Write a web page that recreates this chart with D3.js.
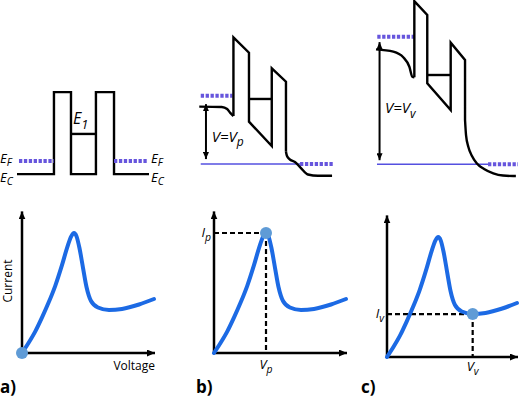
<!DOCTYPE html>
<html lang="en">
<head>
<meta charset="UTF-8">
<title>Resonant tunnelling diode</title>
<script src="https://cdnjs.cloudflare.com/ajax/libs/d3/7.8.5/d3.min.js"></script>
<style>
  html, body { margin: 0; padding: 0; background: #fff; }
  svg { display: block; }
  text { font-family: "Open Sans", "DejaVu Sans", sans-serif; fill: #000; }
</style>
</head>
<body>
<svg width="520" height="399"></svg>
<script>
// I-V curve, same shape in the three lower panels (normalised units)
const voltage = [0, 0.05, 0.1, 0.15, 0.2, 0.25, 0.3, 0.34, 0.37, 0.391, 0.41, 0.432, 0.459, 0.485, 0.519, 0.571, 0.654, 0.752, 0.88, 0.992];
const current = [0, 0.085, 0.18, 0.295, 0.42, 0.56, 0.73, 0.88, 0.972, 1.0, 0.972, 0.875, 0.708, 0.55, 0.433, 0.379, 0.358, 0.367, 0.404, 0.45];
const peakIdx = 9, valleyIdx = 16;

// band diagrams: position (% of panel width), energy (relative to right Fermi level)
// a) no bias
const flatPos = [0, 28, 28, 40.9, 40.9, 59.8, 59.8, 73.5, 73.5, 100];
const flatE   = [-0.16, -0.16, 0.84, 0.84, -0.16, -0.16, 0.84, 0.84, -0.16, -0.16];
const flatE1 = 0.33, flatE1Pos = [40.9, 59.8];
const flatEfLeft = [1.5, 28], flatEfRight = [73.5, 98.5];

// b) bias at peak
const peakLeadPos = [0.2, 17, 21, 23.5, 25.7];
const peakLeadE   = [0.70, 0.695, 0.67, 0.62, 0.585];
const peakBarPos  = [25.7, 25.7, 37.3, 37.3, 54.3, 54.3, 64.9, 64.9];
const peakBarE    = [0.585, 1.545, 1.357, 0.516, 0.22, 1.167, 1.004, 0.15];
const peakTailPos = [64.9, 65.6, 67.5, 71.6, 76.1, 81.3, 88.8, 99.3];
const peakTailE   = [0.15, 0.10, 0.06, 0.024, -0.049, -0.128, -0.143, -0.143];
const peakE1 = 0.793, peakE1Pos = [37.3, 54.3];
const peakBias = 0.833, peakEfLeft = [1.3, 25];
const peakEfRight = [1.3, 75.4, 100];   // solid, then dotted
const peakArrow = [5.2, 0.73, 0.06];    // pos, top, bottom

// c) bias at valley
const valLeadPos = [0, 12.2, 19.2, 23.5, 25.6, 27];
const valLeadE   = [1.402, 1.374, 1.305, 1.19, 1.068, 1.061];
const valBarPos  = [27, 27, 36.1, 36.1, 52.6, 52.6, 62.7, 62.7];
const valBarE    = [1.061, 1.99, 1.821, 0.988, 0.662, 1.483, 1.272, 0.54];
const valTailPos = [62.7, 63.4, 65, 67.6, 70.9, 76.1, 82.6, 89.4, 96.7, 98.5];
const valTailE   = [0.54, 0.357, 0.215, 0.101, 0.012, -0.057, -0.11, -0.137, -0.143, -0.143];
const valE1 = 1.089, valE1Pos = [36.1, 52.6];
const valBias = 1.556, valEfLeft = [0.9, 26.8];
const valEfRight = [0.7, 78.9, 100];
const valArrow = [2.5, 1.49, 0.05];

const svg = d3.select("svg");
const curveBlue = "#1c6ae4", dotBlue = "#5f9bd6", fermi = "#6655dd";

const defs = svg.append("defs");
function marker(id, len, wid, orient) {
  defs.append("marker").attr("id", id)
    .attr("viewBox", `0 0 ${len} ${wid}`)
    .attr("refX", len).attr("refY", wid / 2)
    .attr("markerWidth", len).attr("markerHeight", wid)
    .attr("markerUnits", "userSpaceOnUse")
    .attr("orient", orient)
    .append("path").attr("d", `M0,0L${len},${wid / 2}L0,${wid}Z`).attr("fill", "#000");
}
marker("ax", 8, 7, "auto");
marker("ar", 7, 6, "auto-start-reverse");

const pts = (xs, ys) => xs.map((v, i) => [v, ys[i]]);

function subText(g, x, y, main, sub, size, anchor, italic, drop) {
  const t = g.append("text").attr("x", x).attr("y", y)
    .attr("font-size", size).attr("text-anchor", anchor || "start")
    .attr("font-style", italic ? "italic" : "normal");
  t.append("tspan").text(main);
  t.append("tspan").attr("dy", size * (drop || 0.3)).attr("font-size", size * 0.8).text(sub);
  return t;
}

// ---------- band diagrams ----------
function bandPanel(x0, x1, y0) {
  const x = d3.scaleLinear().domain([0, 100]).range([x0, x1]);
  const y = d3.scaleLinear().domain([0, 1]).range([y0, y0 - 82]);
  return { x, y, g: svg.append("g") };
}

function band(p, data, curve) {
  p.g.append("path").attr("d", d3.line().x(d => p.x(d[0])).y(d => p.y(d[1])).curve(curve || d3.curveLinear)(data))
    .attr("fill", "none").attr("stroke", "#000").attr("stroke-width", 2.4)
    .attr("stroke-linejoin", "miter").attr("stroke-linecap", "butt");
}
function hline(p, a, b, e, dotted, w) {
  p.g.append("line").attr("x1", p.x(a)).attr("x2", p.x(b)).attr("y1", p.y(e)).attr("y2", p.y(e))
    .attr("stroke", dotted ? fermi : (w ? "#5550e0" : "#000"))
    .attr("stroke-width", dotted ? 4 : (w || 2.4))
    .attr("stroke-dasharray", dotted ? "3.3 1.6" : null);
}
function arrow(p, a) {
  p.g.append("line").attr("x1", p.x(a[0])).attr("x2", p.x(a[0]))
    .attr("y1", p.y(a[1])).attr("y2", p.y(a[2]))
    .attr("stroke", "#000").attr("stroke-width", 2)
    .attr("marker-start", "url(#ar)").attr("marker-end", "url(#ar)");
}

// a)
const pa = bandPanel(17, 149, 161);
band(pa, pts(flatPos, flatE));
hline(pa, flatE1Pos[0], flatE1Pos[1], flatE1);
hline(pa, flatEfLeft[0], flatEfLeft[1], 0, true);
hline(pa, flatEfRight[0], flatEfRight[1], 0, true);
subText(pa.g, pa.x(42.5), pa.y(flatE1) - 10, "E", "1", 16, "start", true);
[0, pa.x(101.5)].forEach(lx => {
  subText(pa.g, lx, pa.y(0) + 2, "E", "F", 13, "start", true, 0.22);
  subText(pa.g, lx, pa.y(-0.16) + 8, "E", "C", 13, "start", true, 0.22);
});

// b)
const pb = bandPanel(199, 333, 164);
hline(pb, peakEfRight[0], peakEfRight[1], 0, false, 1.6);
hline(pb, peakEfRight[1], peakEfRight[2], 0, true);
hline(pb, peakEfLeft[0], peakEfLeft[1], peakBias, true);
band(pb, pts(peakLeadPos, peakLeadE), d3.curveMonotoneX);
band(pb, pts(peakBarPos, peakBarE));
band(pb, pts(peakTailPos, peakTailE), d3.curveMonotoneX);
hline(pb, peakE1Pos[0], peakE1Pos[1], peakE1);
arrow(pb, peakArrow);
subText(pb.g, pb.x(9.5), pb.y(0.27), "V=V", "p", 15, "start", true);

// c)
const pc = bandPanel(376, 518, 164.3);
hline(pc, valEfRight[0], valEfRight[1], 0, false, 1.6);
hline(pc, valEfRight[1], valEfRight[2], 0, true);
hline(pc, valEfLeft[0], valEfLeft[1], valBias, true);
band(pc, pts(valLeadPos, valLeadE), d3.curveMonotoneX);
band(pc, pts(valBarPos, valBarE));
band(pc, pts(valTailPos, valTailE), d3.curveMonotoneX);
hline(pc, valE1Pos[0], valE1Pos[1], valE1);
arrow(pc, valArrow);
subText(pc.g, pc.x(6.3), pc.y(0.62), "V=V", "v", 15, "start", true);

// ---------- I-V panels ----------
function ivPanel(ox, oy, w, mark) {
  const g = svg.append("g");
  const x = d3.scaleLinear().domain([0, 1]).range([ox, ox + w]);
  const y = d3.scaleLinear().domain([0, 1]).range([oy, oy - 120]);
  g.append("line").attr("x1", x(0)).attr("y1", y(0)).attr("x2", x(0)).attr("y2", y(1.18))
    .attr("stroke", "#000").attr("stroke-width", 2.5).attr("marker-end", "url(#ax)");
  g.append("line").attr("x1", x(0) - 1).attr("y1", y(0)).attr("x2", x(1)).attr("y2", y(0))
    .attr("stroke", "#000").attr("stroke-width", 2.5).attr("marker-end", "url(#ax)");

  if (mark != null && mark > 0) {
    const vx = voltage[mark], iy = current[mark];
    g.append("path").attr("d", `M${x(0)},${y(iy)}H${x(vx)}M${x(vx)},${y(iy)}V${y(0)}`)
      .attr("fill", "none").attr("stroke", "#000").attr("stroke-width", 2.2)
      .attr("stroke-dasharray", "5 3");
  }
  g.append("path").attr("d", d3.line().x((d, i) => x(voltage[i])).y(d => y(d)).curve(d3.curveMonotoneX)(current))
    .attr("fill", "none").attr("stroke", curveBlue).attr("stroke-width", 4).attr("stroke-linecap", "round");
  if (mark != null) {
    g.append("circle").attr("cx", x(voltage[mark])).attr("cy", y(current[mark])).attr("r", 6)
      .attr("fill", dotBlue);
  }
  return { g, x, y };
}

const ia = ivPanel(22, 353, 133, 0);
ia.g.append("text").attr("transform", `translate(${ia.x(0) - 10},${ia.y(0.6)}) rotate(-90)`)
  .attr("text-anchor", "middle").attr("font-size", 12).text("Current");
ia.g.append("text").attr("x", ia.x(1)).attr("y", ia.y(0) + 17)
  .attr("text-anchor", "end").attr("font-size", 12).text("Voltage");

const ib = ivPanel(214, 353, 133, peakIdx);
subText(ib.g, ib.x(0) - 3, ib.y(current[peakIdx]) + 4, "I", "p", 13, "end", true);
subText(ib.g, ib.x(voltage[peakIdx]), ib.y(0) + 16, "V", "p", 13, "middle", true);

const ic = ivPanel(387, 357, 131, valleyIdx);
subText(ic.g, ic.x(0) - 3, ic.y(current[valleyIdx]) + 4, "I", "v", 13, "end", true);
subText(ic.g, ic.x(voltage[valleyIdx]), ic.y(0) + 14, "V", "v", 13, "middle", true);

// panel letters
[["a)", 0], ["b)", 196], ["c)", 361]].forEach(([t, px]) => {
  svg.append("text").attr("x", px).attr("y", 393).attr("font-size", 17)
    .attr("font-weight", "bold").text(t);
});
</script>
</body>
</html>
